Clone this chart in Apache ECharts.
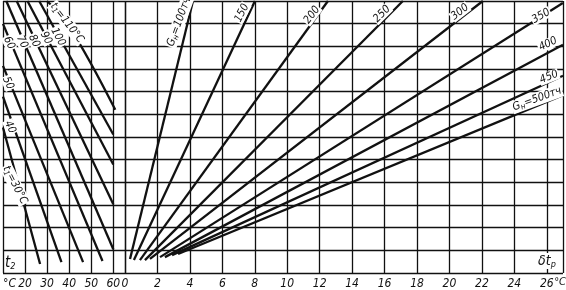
<!DOCTYPE html>
<html><head><meta charset="utf-8">
<script src="https://cdn.jsdelivr.net/npm/echarts@6/dist/echarts.min.js"></script>
<style>html,body{margin:0;padding:0;background:#fff}#c{width:566px;height:290px}</style>
</head><body><div id="c"></div>
<script>
// ---- data ----
// left nomogram: x = t2 (°C), y = nomogram scale (unitless)
const t1Values = [30, 40, 50, 60, 70, 80, 90, 100, 110];
const t1Line30  = [[10, 6.42], [26.8, 0.40]];
const t1Line40  = [[10, 7.78], [36.5, 0.48]];
const t1Line50  = [[10, 9.14], [46.3, 0.48]];
const t1Line60  = [[10, 10.99], [55.1, 0.53]];
const t1Line70  = [[11.5, 12], [60, 1.05]];
const t1Line80  = [[16.2, 12], [60, 3.03]];
const t1Line90  = [[21.1, 12], [60, 4.79]];
const t1Line100 = [[26.4, 12], [60, 6.11]];
const t1Line110 = [[29.9, 12], [39.6, 10.95], [60.9, 7.2]];
// right nomogram: x = δt_p (°C)
const gValues = [100, 150, 200, 250, 300, 350, 400, 450, 500];
const gLine100 = [[0.31, 0.62], [4.19, 12]];
const gLine150 = [[0.55, 0.57], [8.01, 12]];
const gLine200 = [[0.92, 0.57], [12.51, 12]];
const gLine250 = [[1.23, 0.57], [17.13, 12]];
const gLine300 = [[1.54, 0.62], [22.06, 12]];
const gLine350 = [[2.16, 0.70], [26.99, 11.91]];
const gLine400 = [[2.46, 0.70], [27, 10.07]];
const gLine450 = [[2.90, 0.79], [27, 8.70]];
const gLine500 = [[3.27, 0.84], [27, 7.85]];
const t2Ticks = [20, 30, 40, 50, 60];
const dtTicks = [0, 2, 4, 6, 8, 10, 12, 14, 16, 18, 20, 22, 24, 26];

const t1Lines = [t1Line30, t1Line40, t1Line50, t1Line60, t1Line70, t1Line80, t1Line90, t1Line100, t1Line110];
const gLines = [gLine100, gLine150, gLine200, gLine250, gLine300, gLine350, gLine400, gLine450, gLine500];

// ---- styles / layout ----
const FONT = "'Liberation Sans Narrow','DejaVu Sans Condensed','DejaVu Sans',sans-serif";
const INK = '#111';
const gridLine = {show: true, lineStyle: {color: INK, width: 1.3}};
const axLabel = {color: INK, fontFamily: FONT, fontStyle: 'italic', fontSize: 12, margin: 5};
const sub = {fontSize: 8, fontFamily: FONT, fontStyle: 'italic', fill: INK, padding: [5, 0, 0, 0]};
const big = {fontFamily: FONT, fontStyle: 'italic', fontSize: 11, fill: INK};

// label annotations: [text, cx, cy, rotationDeg]
const lineLabels = [
  ['{a|G}{s|н}{a|=100тч}', 179, 22, 70],
  ['{a|150}', 242, 13, 63],
  ['{a|200}', 312, 15, 53],
  ['{a|250}', 382, 14, 45],
  ['{a|300}', 460, 12, 38],
  ['{a|350}', 541, 16, 30],
  ['{a|400}', 548, 44, 25],
  ['{a|450}', 549, 77, 22],
  ['{a|G}{s|н}{a|=500тч}', 537, 99, 20],
  ['{a|t}{s|1}{a|=110°C}', 67, 23, -52],
  ['{a|100}', 58, 37, -62],
  ['{a|90}', 46, 38, -62],
  ['{a|80}', 34, 41, -64],
  ['{a|70}', 22, 42, -64],
  ['{a|60}', 9, 43, -64],
  ['{a|50}', 8, 83, -66],
  ['{a|40}', 10, 127, -66],
  ['{a|t}{s|1}{a|=30°C}', 15, 185, -63]
];

const chart = echarts.init(document.getElementById('c'), null, {renderer: 'canvas'});
const series = [];
t1Lines.forEach((d, i) => series.push({
  name: 't1=' + t1Values[i], type: 'line', xAxisIndex: 0, yAxisIndex: 0, data: d,
  showSymbol: false, smooth: d.length > 2 ? 0.4 : false, lineStyle: {color: INK, width: 2.3}, silent: true, z: 3
}));
gLines.forEach((d, i) => series.push({
  name: 'G=' + gValues[i], type: 'line', xAxisIndex: 1, yAxisIndex: 1, data: d,
  showSymbol: false, lineStyle: {color: INK, width: 2.3}, silent: true, z: 3
}));

const graphics = lineLabels.map(([t, x, y, r]) => ({
  type: 'text', x: x, y: y, rotation: r * Math.PI / 180, z: 10,
  style: {text: t, align: 'center', verticalAlign: 'middle', backgroundColor: '#fff', padding: [0, 1],
    rich: {a: big, s: sub}}
}));
graphics.push({type: 'text', x: 5, y: 263, z: 10,
  style: {text: '{a|t}{s|2}', verticalAlign: 'middle', rich: {a: Object.assign({}, big, {fontSize: 15}), s: Object.assign({}, sub, {fontSize: 9, padding: [7, 0, 0, 0]})}}});
graphics.push({type: 'text', x: 547, y: 261, z: 10,
  style: {text: '{a|δt}{s|p}', align: 'center', verticalAlign: 'middle', backgroundColor: '#fff',
    rich: {a: Object.assign({}, big, {fontSize: 14}), s: Object.assign({}, sub, {fontSize: 9, padding: [7, 0, 0, 0]})}}});
graphics.push({type: 'text', x: 566, y: 277, z: 10,
  style: {text: '°C', align: 'right', verticalAlign: 'top', fill: INK, font: "italic 11px " + FONT}});

chart.setOption({
  animation: false,
  backgroundColor: '#fff',
  grid: [
    {left: 0, top: 1, width: 125, height: 273},
    {left: 125, top: 1, width: 438, height: 273}
  ],
  xAxis: [
    {type: 'value', gridIndex: 0, min: 10, max: 65.3, interval: 10,
     axisLine: {show: false}, axisTick: {show: false}, splitLine: gridLine,
     axisLabel: Object.assign({}, axLabel, {showMinLabel: true, showMaxLabel: false, alignMinLabel: 'left',
       formatter: v => v === 10 ? '°C' : (t2Ticks.indexOf(v) >= 0 ? String(v) : '')})},
    {type: 'value', gridIndex: 1, min: 0, max: 27, interval: 2,
     axisLine: {show: false}, axisTick: {show: false}, splitLine: gridLine,
     axisLabel: Object.assign({}, axLabel, {showMinLabel: true, showMaxLabel: false,
       formatter: v => (dtTicks.indexOf(v) >= 0 ? String(v) : '')})}
  ],
  yAxis: [
    {type: 'value', gridIndex: 0, min: 0, max: 12, interval: 1, axisLine: {show: false}, axisTick: {show: false},
     axisLabel: {show: false}, splitLine: gridLine},
    {type: 'value', gridIndex: 1, min: 0, max: 12, interval: 1, axisLine: {show: false}, axisTick: {show: false},
     axisLabel: {show: false}, splitLine: gridLine}
  ],
  series: series,
  graphic: graphics
});
</script></body></html>
